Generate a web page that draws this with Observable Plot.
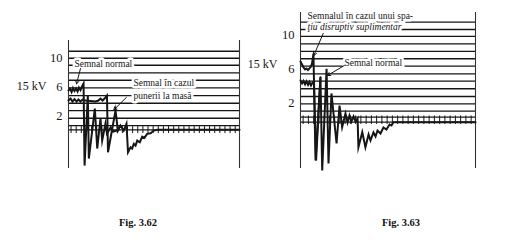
<!DOCTYPE html>
<html>
<head>
<meta charset="utf-8">
<script src="https://cdn.jsdelivr.net/npm/d3@7"></script>
<script src="https://cdn.jsdelivr.net/npm/@observablehq/plot@0.6"></script>
<style>
  html, body { margin: 0; padding: 0; background: #fff; }
  #page { position: relative; width: 507px; height: 245px; overflow: hidden; background: #fff;
          font-family: "Liberation Serif", "Times New Roman", serif; }
  .panel { position: absolute; top: 0; }
  .panel svg text { font-family: "Liberation Serif", "Times New Roman", serif; }
  .caption { position: absolute; font-weight: bold; font-size: 10.5px; color: #111;
             transform: translateX(-50%); white-space: nowrap; line-height: 12px; }
</style>
</head>
<body>
<div id="page">
  <div class="panel" id="p62" style="left:0"></div>
  <div class="panel" id="p63" style="left:250px"></div>
  <div class="caption" style="left:138px;top:217px">Fig. 3.62</div>
  <div class="caption" style="left:401px;top:217px">Fig. 3.63</div>
</div>
<script>
// Voltage axis (kV) and the label beside it
const yTicks = [10, 6, 2];
const unitLabel = "15 kV";

// Fig. 3.62 — time (0–100 across the screen) and voltage of each trace
const t62Normal = [0, 0.9, 1.8, 2.6, 3.5, 4.4, 5.3, 6.1, 7.0, 7.9, 8.8, 9.4, 11.3, 11.9, 15.4, 16.8, 18.7, 19.7, 21.6, 22.5, 24.6, 26.3, 29.2];
const v62Normal = [5.45, 5.72, 5.24, 5.79, 5.38, 5.72, 5.31, 5.86, 5.52, 6.0, 6.41, -4.9, 4.76, -3.93, 2.97, -2.55, 1.59, -1.45, 0.9, -0.48, 0.34, -0.2, 0];
const t62Ground = [0, 1.2, 2.3, 3.5, 4.7, 5.8, 7.0, 8.2, 9.9, 12.9, 15.8, 17.5, 18.7, 19.9, 21.1, 22.5, 23.1, 27.5, 28.9, 30.4, 32.3, 33.9, 34.8, 36.3, 37.2, 38.2, 39.2, 40.2, 41.7, 43.1, 44.4, 46.0, 48.0, 49.9, 51.9, 100];
const v62Ground = [4.07, 4.34, 3.93, 4.28, 3.93, 4.21, 3.93, 4.21, 4.07, 4.0, 3.93, 4.07, 4.34, 4.07, 4.34, 4.76, -3.06, 2.69, -0.07, 0.62, -0.07, 0.86, -3.06, -2.37, -2.55, -1.9, -2.14, -1.45, -1.68, -0.9, -1.08, -0.52, -0.44, -0.07, 0.03, 0.03];

// Fig. 3.63 — trace with the extra spark gap, and the normal trace
const t63Spark = [0, 0.9, 1.7, 2.6, 3.4, 4.3, 5.1, 6.0, 6.6, 7.4, 8.6, 11.4];
const v63Spark = [6.94, 6.59, 6.24, 6.0, 6.12, 5.94, 6.12, 6.35, 6.71, 7.85, -4.7, 5.09];
const t63Normal = [0, 0.9, 1.7, 2.6, 3.4, 4.3, 5.1, 6.0, 6.9, 7.7, 8.9, 11.4, 12.4, 14.9, 16.0, 17.7, 20.6, 22.3, 23.8, 25.7, 26.9, 28.0, 29.1, 30.3, 31.4, 32.6, 33.1, 35.3, 37.1, 38.9, 40.0, 41.7, 42.9, 44.0, 45.7, 47.4, 49.1, 50.9, 52.0, 53.1, 100];
const v63Normal = [4.71, 4.35, 4.65, 4.24, 4.59, 4.18, 4.53, 4.12, 4.47, 4.35, -4.7, 5.09, -5.88, 6.08, -5.06, 3.18, -2.71, 1.76, -0.79, 0.82, -0.24, 0.59, -0.12, 0.47, -0.12, 0.24, -3.14, -1.38, -3.14, -1.65, -2.35, -1.41, -1.88, -1.18, -1.53, -0.82, -1.06, -0.47, -0.59, -0.2, -0.2];

// Ruled screen lines (kV) and the ticked zero line
const grid62 = [0.62, 1.63, 2.69, 3.7, 4.76, 5.82, 6.87, 7.89, 8.94, 9.9, 10.87];
const base62 = [0.03];
const grid63 = [1.09, 1.96, 2.82, 3.73, 4.62, 5.49, 6.39, 7.26, 8.12, 9.0, 9.88, 10.7, 11.56];
const base63 = [0.39, -0.2];

// Callouts, anchored in data units
const notes62 = [
  {t: 3.5, v: 9.17, label: "Semnal normal"},
  {t: 38.0, v: 6.46, label: "Semnal în cazul"},
  {t: 38.0, v: 4.76, label: "punerii la masă"}
];
const arrows62 = [
  {t1: 7.0, v1: 8.48, t2: 4.7, v2: 6.37},
  {t1: 33.9, v1: 4.52, t2: 26.5, v2: 2.78}
];
const notes63 = [
  {t: 4.0, v: 12.35, label: "Semnalul în cazul unui spa-"},
  {t: 25.1, v: 6.79, label: "Semnal normal"}
];
const notes63Italic = [
  {t: 4.0, v: 10.98, label: "ţiu disruptiv suplimentar"}
];
const arrows63 = [
  {t1: 13.0, v1: 10.24, t2: 7.6, v2: 7.65},
  {t1: 25.1, v1: 6.47, t2: 15.4, v2: 5.29}
];

const ink = "#161616";
const serif = "Liberation Serif";
const trace = (ts, vs) => ts.map((t, i) => ({t, v: vs[i]}));

function screen({width, marginLeft, marginRight, marginTop, yDomain, grid, base, tickSpan,
                 traces, notes, italicNotes, arrows, unitV, unitDx}) {
  const tickTs = d3.range(1.5, 100, 3);
  const label = {fontFamily: serif, fill: ink};
  return Plot.plot({
    width, height: 245,
    marginLeft, marginRight, marginTop, marginBottom: 77,
    x: {domain: [0, 100], axis: null},
    y: {domain: yDomain, axis: null},
    style: {fontFamily: serif, background: "transparent", color: ink, overflow: "visible"},
    marks: [
      Plot.ruleY(grid, {stroke: ink, strokeWidth: 1.3}),
      Plot.ruleY(base, {stroke: ink, strokeWidth: 1.3}),
      Plot.ruleX(tickTs, {x: d => d, y1: () => tickSpan[0], y2: () => tickSpan[1], stroke: ink, strokeWidth: 1}),
      Plot.ruleX([0, 100], {stroke: "#333", strokeWidth: 1.1}),
      ...traces.map(d => Plot.line(d, {x: "t", y: "v", stroke: ink, strokeWidth: 2, strokeLinejoin: "miter", strokeMiterlimit: 8})),
      Plot.text(notes, {x: "t", y: "v", text: "label", textAnchor: "start", fontSize: 9.5, ...label,
                        stroke: "white", strokeWidth: 5, paintOrder: "stroke"}),
      Plot.text(italicNotes, {x: "t", y: "v", text: "label", textAnchor: "start", fontSize: 9.5, fontStyle: "italic",
                              ...label, stroke: "white", strokeWidth: 5, paintOrder: "stroke"}),
      Plot.arrow(arrows, {x1: "t1", y1: "v1", x2: "t2", y2: "v2", stroke: ink, strokeWidth: 1, headLength: 5}),
      Plot.axisY({ticks: yTicks, tickSize: 0, tickPadding: 6, fontSize: 12.5, label: null, ...label}),
      Plot.text([unitLabel], {text: d => d, y: () => unitV, frameAnchor: "left", dx: unitDx,
                              textAnchor: "end", fontSize: 12, ...label})
    ]
  });
}

document.getElementById("p62").append(screen({
  width: 250, marginLeft: 68, marginRight: 11, marginTop: 40,
  yDomain: [-5.3, 12.35], grid: grid62, base: base62, tickSpan: [-0.48, 0.48],
  traces: [trace(t62Ground, v62Ground), trace(t62Normal, v62Normal)],
  notes: notes62, italicNotes: [], arrows: arrows62, unitV: 6, unitDx: -22
}));

document.getElementById("p63").append(screen({
  width: 257, marginLeft: 50, marginRight: 32, marginTop: 12,
  yDomain: [-5.65, 12.7], grid: grid63, base: base63, tickSpan: [-0.47, 0.53],
  traces: [trace(t63Normal, v63Normal), trace(t63Spark, v63Spark)],
  notes: notes63, italicNotes: notes63Italic, arrows: arrows63, unitV: 6.67, unitDx: -23
}));
</script>
</body>
</html>
